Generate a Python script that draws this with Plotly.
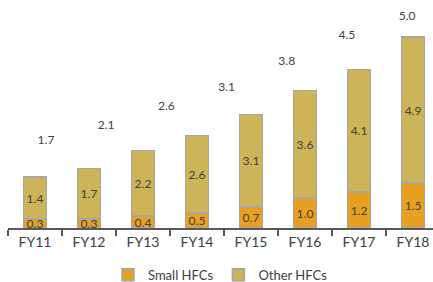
import plotly.graph_objects as go

categories = ["FY11", "FY12", "FY13", "FY14", "FY15", "FY16", "FY17", "FY18"]
small_hfcs = [0.3, 0.3, 0.4, 0.5, 0.7, 1.0, 1.2, 1.5]
other_hfcs = [1.4, 1.7, 2.2, 2.6, 3.1, 3.6, 4.1, 4.9]
totals = [1.7, 2.1, 2.6, 3.1, 3.8, 4.5, 5.0]
total_slots = list(range(len(totals)))

ORANGE = "#E8A023"
GOLD = "#CDB458"
EDGE = "#A6A6A6"
TXT = "#404040"
FONT = "Lato, Liberation Sans, sans-serif"

fig = go.Figure()
fig.add_trace(go.Bar(
    x=categories, y=small_hfcs, name="Small HFCs",
    marker=dict(color=ORANGE, line=dict(color=EDGE, width=1.5)),
    text=[f"{v:.1f}" for v in small_hfcs], textposition="inside",
    insidetextanchor="middle", constraintext="none", cliponaxis=False,
    textfont=dict(size=12, color=TXT, family=FONT),
))
fig.add_trace(go.Bar(
    x=categories, y=other_hfcs, name="Other HFCs",
    marker=dict(color=GOLD, line=dict(color=EDGE, width=1.5)),
    text=[f"{v:.1f}" for v in other_hfcs], textposition="inside",
    insidetextanchor="middle", constraintext="none", cliponaxis=False,
    textfont=dict(size=12, color=TXT, family=FONT),
))
fig.add_trace(go.Scatter(
    x=total_slots, y=totals, mode="text", cliponaxis=False,
    text=[f"{v:.1f}" for v in totals], textposition="middle center",
    textfont=dict(size=12, color=TXT, family=FONT),
    xaxis="x2", yaxis="y2", showlegend=False, hoverinfo="skip",
))

fig.update_layout(
    width=433, height=282,
    margin=dict(l=8, r=0, t=10, b=54, autoexpand=False),
    paper_bgcolor="white", plot_bgcolor="white",
    barmode="stack", bargap=0.57,
    font=dict(family=FONT, color=TXT),
    xaxis=dict(
        range=[-0.5, 7.37], showline=True, linecolor="#595959", linewidth=1.5,
        ticks="outside", tickson="boundaries", ticklen=6, tickcolor="#595959",
        tickwidth=1.5, tickfont=dict(size=14, color=TXT, family=FONT),
        showgrid=False, zeroline=False, automargin=False,
    ),
    yaxis=dict(range=[0, 7.30], visible=False, showgrid=False, zeroline=False,
               automargin=False),
    xaxis2=dict(range=[-0.631, 6.43], overlaying="x", visible=False),
    yaxis2=dict(range=[-0.638, 5.19], overlaying="y", visible=False),
    legend=dict(
        orientation="h", x=0.5, xanchor="center", y=-0.215, yanchor="middle",
        font=dict(size=13, color=TXT, family=FONT), traceorder="normal",
        itemclick=False,
    ),
    showlegend=True,
)

fig.write_html(
    "out.html",
    config={"displayModeBar": False},
    post_script="document.body.style.margin='0';document.body.style.overflow='hidden';",
)
